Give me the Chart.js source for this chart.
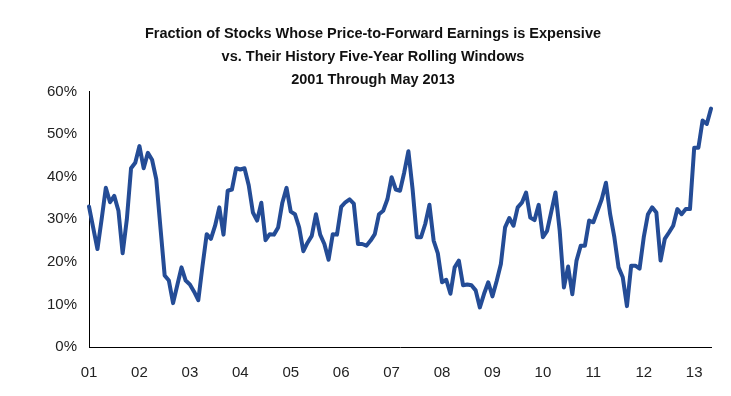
<!DOCTYPE html>
<html>
<head>
<meta charset="utf-8">
<script src="https://cdn.jsdelivr.net/npm/chart.js@4.4.1/dist/chart.umd.min.js"></script>
<style>
html,body{margin:0;padding:0;background:#fff;}
#wrap{width:731px;height:396px;position:relative;}
</style>
</head>
<body>
<div id="wrap"><canvas id="c" width="731" height="396"></canvas></div>
<script>
// Monthly data, Jan 2001 .. May 2013 (fraction of stocks, %)
const values = [
  33, 28, 23, 30, 37.4, 34, 35.5, 32, 22, 30, 42, 43.3,          // 2001
  47.2, 42, 45.6, 44, 39.4, 28, 16.8, 15.6, 10.3, 14.5, 18.7, 15.6, // 2002
  14.7, 13, 11, 19, 26.5, 25.4, 28.5, 32.8, 26.4, 36.7, 37, 42,  // 2003
  41.7, 42, 38, 31.6, 29.7, 33.9, 25.1, 26.5, 26.4, 28.1, 33.9, 37.4, // 2004
  31.8, 31.2, 28.1, 22.5, 24.5, 26.1, 31.2, 26.4, 24.2, 20.5, 26.5, 26.4, // 2005
  32.9, 34, 34.7, 33.7, 24.2, 24.2, 23.8, 25, 26.5, 31.2, 32, 34.7, // 2006
  39.9, 37, 36.7, 41, 46, 37, 25.8, 25.8, 28.9, 33.4, 25, 22,    // 2007
  15.2, 15.8, 12.5, 18.7, 20.3, 14.5, 14.7, 14.5, 13.3, 9.3, 12.5, 15.2, // 2008
  11.9, 15.5, 19.5, 28.1, 30.3, 28.5, 32.8, 33.9, 36.3, 30.4, 29.8, 33.4, // 2009
  25.8, 27.3, 31.8, 36.3, 27.3, 14, 18.9, 12.4, 20.3, 23.8, 23.8, 29.7, // 2010
  29.3, 32, 34.7, 38.6, 31.2, 25.8, 18.7, 16.4, 9.6, 19.1, 19.1, 18.4, // 2011
  25.8, 31.2, 32.8, 31.6, 20.3, 25.4, 26.9, 28.5, 32.4, 31.2, 32.4, 32.4, // 2012
  46.8, 46.8, 53.2, 52.4, 56                                      // 2013 (Jan-May)
];
const yearLabels = ['01','02','03','04','05','06','07','08','09','10','11','12','13'];
const yTicks = [0, 10, 20, 30, 40, 50, 60];
const titleLines = [
  'Fraction of Stocks Whose Price-to-Forward Earnings is Expensive',
  'vs. Their History Five-Year Rolling Windows',
  '2001 Through May 2013'
];

const categories = values.map((v, i) => (i % 12 === 0) ? yearLabels[i / 12] : '');

new Chart(document.getElementById('c'), {
  type: 'line',
  data: {
    labels: categories,
    datasets: [{
      data: values,
      borderColor: '#244c96',
      borderWidth: 4,
      pointRadius: 0,
      tension: 0,
      fill: false,
      borderJoinStyle: 'round',
      borderCapStyle: 'round'
    }]
  },
  options: {
    responsive: false,
    animation: false,
    layout: { padding: { left: 35, right: 20, top: 0, bottom: 0 } },
    plugins: {
      legend: { display: false },
      tooltip: { enabled: false },
      title: {
        display: true,
        text: titleLines,
        color: '#111',
        font: { family: '"Liberation Sans", Arial, sans-serif', size: 14.5, weight: 'bold', lineHeight: 1.6 },
        padding: { top: 22, bottom: 0 }
      }
    },
    scales: {
      x: {
        offset: false,
        grid: { display: false, drawTicks: false },
        border: { display: true, color: '#000', width: 1 },
        afterFit: function(s) { s.height = 49; },
        ticks: {
          autoSkip: false,
          maxRotation: 0,
          padding: 17,
          color: '#222',
          font: { family: '"Liberation Sans", Arial, sans-serif', size: 15 },
          callback: function(v, i) { return categories[i]; }
        }
      },
      y: {
        min: 0, max: 60,
        afterBuildTicks: function(s) { s.ticks = yTicks.map(v => ({ value: v })); },
        grid: { display: false, drawTicks: false },
        border: { display: true, color: '#000', width: 1 },
        ticks: {
          padding: 12,
          color: '#222',
          font: { family: '"Liberation Sans", Arial, sans-serif', size: 15 },
          callback: function(v) { return v + '%'; }
        }
      }
    }
  }
});
</script>
</body>
</html>
